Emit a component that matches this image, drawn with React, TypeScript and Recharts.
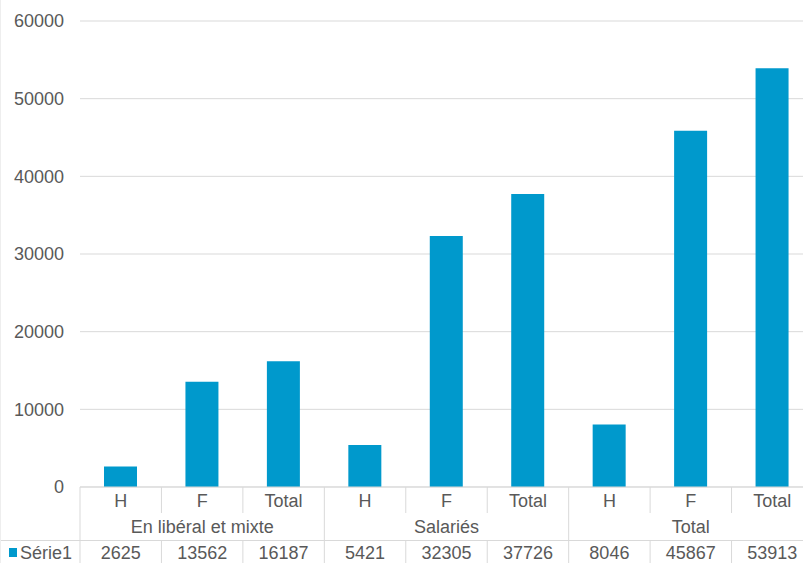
import React from 'react';
import { BarChart, Bar, XAxis, YAxis, CartesianGrid } from 'recharts';

// Chart data
const categories = ['H', 'F', 'Total', 'H', 'F', 'Total', 'H', 'F', 'Total'];
const groups = ['En libéral et mixte', 'Salariés', 'Total'];
const serie1 = [2625, 13562, 16187, 5421, 32305, 37726, 8046, 45867, 53913];
const seriesName = 'Série1';
const yTicks = [0, 10000, 20000, 30000, 40000, 50000, 60000];

// Layout
const VIEW_W = 803;
const VIEW_H = 563;
const CHART_W = 813; // plot runs past the right edge like the original
const TOP = 21;
const Y_W = 80;
const X_H = 76;
const PLOT_BOTTOM = VIEW_H - X_H;
const BAND = (CHART_W - Y_W) / categories.length;

const TEXT = '#595959';
const LINE = '#d9d9d9';
const BLUE = '#0099cc';
const FONT = '"Liberation Sans", Arial, sans-serif';

const rows = categories.map((cat, i) => ({
  idx: i,
  cat,
  group: groups[Math.floor(i / 3)],
  value: serie1[i],
}));

function TableTick(props: any) {
  const { x, index } = props;
  const half = BAND / 2;
  const left = x - half;
  const row = rows[index];
  const groupStart = index % 3 === 0;

  return (
    <g fontFamily={FONT} fontSize={18} fill={TEXT}>
      {index === 0 && (
        <g>
          <line x1={0} x2={CHART_W} y1={540.5} y2={540.5} stroke={LINE} />
          <line x1={0.5} x2={0.5} y1={0} y2={VIEW_H} stroke="#eeeeee" />
          <rect x={9} y={548} width={8} height={9} fill={BLUE} />
          <text x={20} y={558.5} textAnchor="start">
            {seriesName}
          </text>
        </g>
      )}
      {groupStart ? (
        <line x1={left} x2={left} y1={PLOT_BOTTOM} y2={VIEW_H} stroke={LINE} />
      ) : (
        <g>
          <line x1={left} x2={left} y1={PLOT_BOTTOM} y2={513} stroke={LINE} />
          <line x1={left} x2={left} y1={540.5} y2={VIEW_H} stroke={LINE} />
        </g>
      )}
      {index === rows.length - 1 && (
        <line x1={x + half} x2={x + half} y1={PLOT_BOTTOM} y2={VIEW_H} stroke={LINE} />
      )}
      <text x={x} y={506.5} textAnchor="middle">
        {row.cat}
      </text>
      {index % 3 === 1 && (
        <text x={x} y={533} textAnchor="middle">
          {row.group}
        </text>
      )}
      <text x={x} y={558.5} textAnchor="middle">
        {row.value}
      </text>
    </g>
  );
}

export default function App() {
  return (
    <div
      style={{
        position: 'absolute',
        left: 0,
        top: 0,
        width: VIEW_W,
        height: VIEW_H,
        overflow: 'hidden',
        background: '#fff',
      }}
    >
      <BarChart
        width={CHART_W}
        height={VIEW_H}
        data={rows}
        margin={{ top: TOP, right: 0, bottom: 0, left: 0 }}
      >
        <CartesianGrid vertical={false} stroke={LINE} />
        <XAxis
          dataKey="idx"
          height={X_H}
          interval={0}
          tickLine={false}
          axisLine={{ stroke: LINE }}
          tick={<TableTick />}
        />
        <YAxis
          width={Y_W}
          domain={[0, 60000]}
          ticks={yTicks}
          interval={0}
          axisLine={false}
          tickLine={false}
          tickSize={0}
          tickMargin={16}
          tick={{ fill: TEXT, fontSize: 18, fontFamily: FONT }}
        />
        <Bar dataKey="value" fill={BLUE} barSize={33} isAnimationActive={false} />
      </BarChart>
    </div>
  );
}
